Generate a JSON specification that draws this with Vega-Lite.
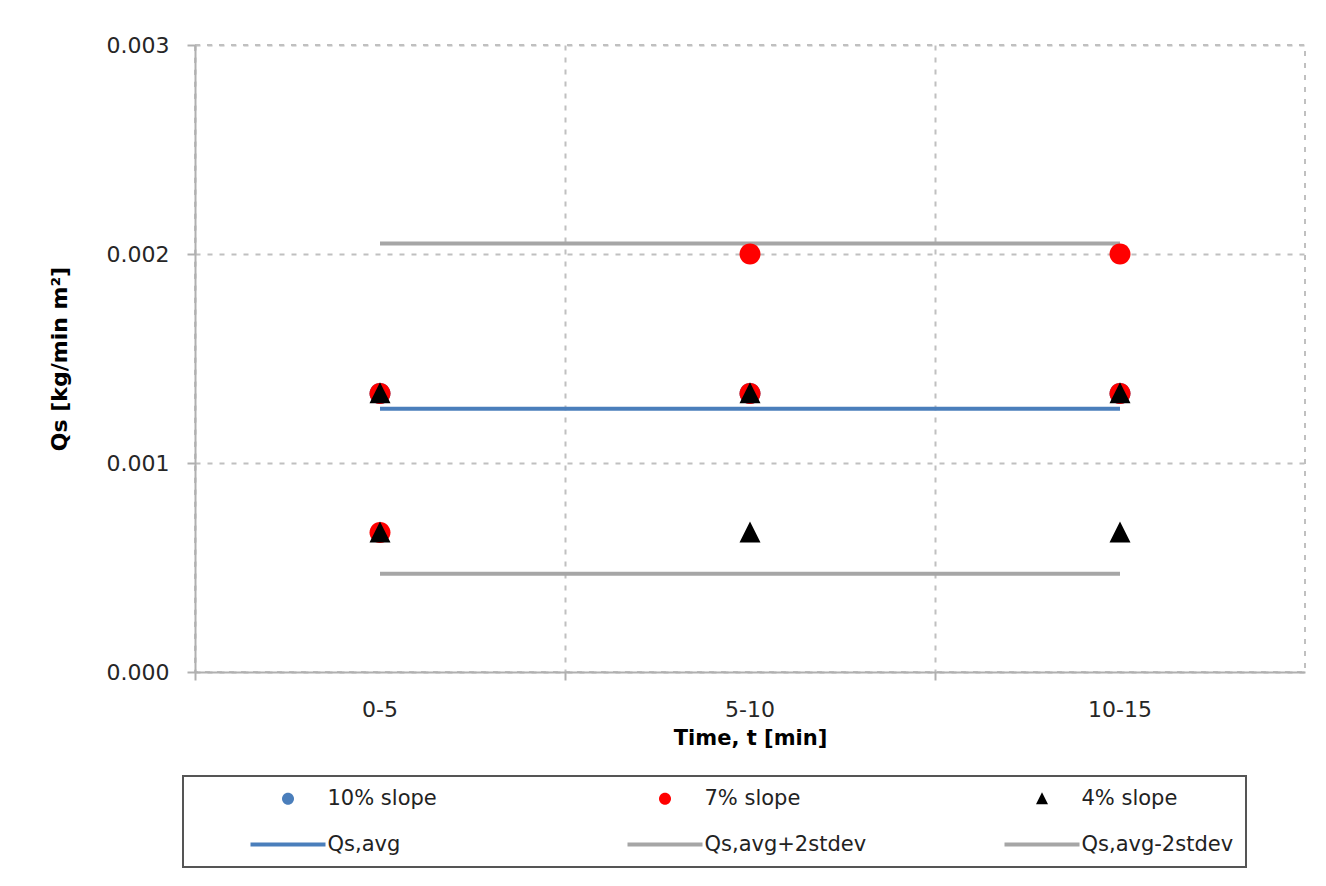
{
  "$schema": "https://vega.github.io/schema/vega-lite/v6.json",
  "width": 1110,
  "height": 627,
  "autosize": {"type": "none"},
  "padding": {"left": 195, "top": 45, "right": 21, "bottom": 214},
  "background": "white",
  "config": {
    "view": {"stroke": "#c0c0c0", "strokeDash": [5, 7], "strokeWidth": 2},
    "font": "DejaVu Sans",
    "axis": {"labelFont": "DejaVu Sans", "titleFont": "DejaVu Sans", "labelColor": "#262626", "titleColor": "#000000"}
  },
  "datasets": {
    "points": [
      {"time": "0-5", "qs": 0.001333, "series": "10% slope"},
      {"time": "5-10", "qs": 0.001333, "series": "10% slope"},
      {"time": "10-15", "qs": 0.001333, "series": "10% slope"},
      {"time": "0-5", "qs": 0.001333, "series": "7% slope"},
      {"time": "0-5", "qs": 0.000667, "series": "7% slope"},
      {"time": "5-10", "qs": 0.002, "series": "7% slope"},
      {"time": "5-10", "qs": 0.001333, "series": "7% slope"},
      {"time": "10-15", "qs": 0.002, "series": "7% slope"},
      {"time": "10-15", "qs": 0.001333, "series": "7% slope"},
      {"time": "0-5", "qs": 0.001333, "series": "4% slope"},
      {"time": "0-5", "qs": 0.000667, "series": "4% slope"},
      {"time": "5-10", "qs": 0.001333, "series": "4% slope"},
      {"time": "5-10", "qs": 0.000667, "series": "4% slope"},
      {"time": "10-15", "qs": 0.001333, "series": "4% slope"},
      {"time": "10-15", "qs": 0.000667, "series": "4% slope"}
    ],
    "lines": [
      {"time": "0-5", "qs": 0.00126, "series": "Qs,avg"},
      {"time": "5-10", "qs": 0.00126, "series": "Qs,avg"},
      {"time": "10-15", "qs": 0.00126, "series": "Qs,avg"},
      {"time": "0-5", "qs": 0.00205, "series": "Qs,avg+2stdev"},
      {"time": "5-10", "qs": 0.00205, "series": "Qs,avg+2stdev"},
      {"time": "10-15", "qs": 0.00205, "series": "Qs,avg+2stdev"},
      {"time": "0-5", "qs": 0.00047, "series": "Qs,avg-2stdev"},
      {"time": "5-10", "qs": 0.00047, "series": "Qs,avg-2stdev"},
      {"time": "10-15", "qs": 0.00047, "series": "Qs,avg-2stdev"}
    ]
  },
  "encoding": {
    "x": {
      "field": "time",
      "type": "nominal",
      "sort": ["0-5", "5-10", "10-15"],
      "scale": {"type": "band", "paddingInner": 0, "paddingOuter": 0},
      "axis": {
        "title": "Time, t [min]",
        "titleFontSize": 21,
        "titleFontWeight": "bold",
        "titlePadding": 7,
        "labelAngle": 0,
        "labelFontSize": 22,
        "labelPadding": 19,
        "bandPosition": 0,
        "labelAlign": "center",
        "grid": true,
        "gridColor": "#c0c0c0",
        "gridDash": [5, 7],
        "gridWidth": 2,
        "domainColor": "#b0b0b0",
        "domainWidth": 2,
        "tickColor": "#b0b0b0",
        "tickWidth": 2,
        "tickSize": 8
      }
    },
    "y": {
      "field": "qs",
      "type": "quantitative",
      "scale": {"domain": [0, 0.003], "nice": false, "zero": true},
      "axis": {
        "title": "Qs [kg/min m²]",
        "titleFontSize": 22,
        "titleFontWeight": "bold",
        "titlePadding": 35,
        "values": [0, 0.001, 0.002, 0.003],
        "format": ".3f",
        "labelFontSize": 22,
        "labelPadding": 18,
        "grid": true,
        "gridColor": "#c0c0c0",
        "gridDash": [5, 7],
        "gridWidth": 2,
        "domainColor": "#b0b0b0",
        "domainWidth": 2,
        "tickColor": "#b0b0b0",
        "tickWidth": 2,
        "tickSize": 8
      }
    }
  },
  "layer": [
    {
      "data": {"name": "lines"},
      "mark": {"type": "line", "strokeWidth": 4, "strokeCap": "butt"},
      "encoding": {
        "stroke": {
          "field": "series",
          "type": "nominal",
          "scale": {
            "domain": ["Qs,avg", "Qs,avg+2stdev", "Qs,avg-2stdev"],
            "range": ["#4a7ebb", "#a6a6a6", "#a6a6a6"]
          },
          "legend": null
        }
      }
    },
    {
      "data": {"name": "points"},
      "mark": {"type": "point", "filled": true, "size": 1225, "opacity": 1, "strokeWidth": 0},
      "encoding": {
        "color": {
          "field": "series",
          "type": "nominal",
          "scale": {
            "domain": ["10% slope", "7% slope", "4% slope", "Qs,avg", "Qs,avg+2stdev", "Qs,avg-2stdev"],
            "range": ["#4a7ebb", "#ff0000", "#000000", "#4a7ebb", "#a6a6a6", "#a6a6a6"]
          },
          "legend": {
            "orient": "none", "legendX": -12, "legendY": 731, "direction": "horizontal",
            "columns": 3, "gridAlign": "all", "columnPadding": 137, "rowPadding": 24,
            "symbolSize": 400, "symbolStrokeWidth": 0, "symbolOpacity": 1, "symbolOffset": 27.5,
            "labelFontSize": 21, "labelFont": "DejaVu Sans", "labelColor": "#222222", "labelOffset": 29, "labelLimit": 400,
            "padding": 12, "strokeColor": "#555555",
            "title": " ", "titleOrient": "left", "titlePadding": 55,
            "encode": {"legend": {"update": {"strokeWidth": {"value": 2}}}}
          }
        },
        "shape": {
          "field": "series",
          "type": "nominal",
          "scale": {
            "domain": ["10% slope", "7% slope", "4% slope", "Qs,avg", "Qs,avg+2stdev", "Qs,avg-2stdev"],
            "range": [
              "M-0.6,0A0.6,0.6,0,1,0,0.6,0A0.6,0.6,0,1,0,-0.6,0Z",
              "M-0.6,0A0.6,0.6,0,1,0,0.6,0A0.6,0.6,0,1,0,-0.6,0Z",
              "M0,-0.64L0.6,0.56L-0.6,0.56Z",
              "M-3.75,-0.2H3.75V0.2H-3.75Z",
              "M-3.75,-0.2H3.75V0.2H-3.75Z",
              "M-3.75,-0.2H3.75V0.2H-3.75Z"
            ]
          },
          "legend": {
            "orient": "none", "legendX": -12, "legendY": 731, "direction": "horizontal",
            "columns": 3, "gridAlign": "all", "columnPadding": 137, "rowPadding": 24,
            "symbolSize": 400, "symbolStrokeWidth": 0, "symbolOpacity": 1, "symbolOffset": 27.5,
            "labelFontSize": 21, "labelFont": "DejaVu Sans", "labelColor": "#222222", "labelOffset": 29, "labelLimit": 400,
            "padding": 12, "strokeColor": "#555555",
            "title": " ", "titleOrient": "left", "titlePadding": 55,
            "encode": {"legend": {"update": {"strokeWidth": {"value": 2}}}}
          }
        }
      }
    }
  ]
}
